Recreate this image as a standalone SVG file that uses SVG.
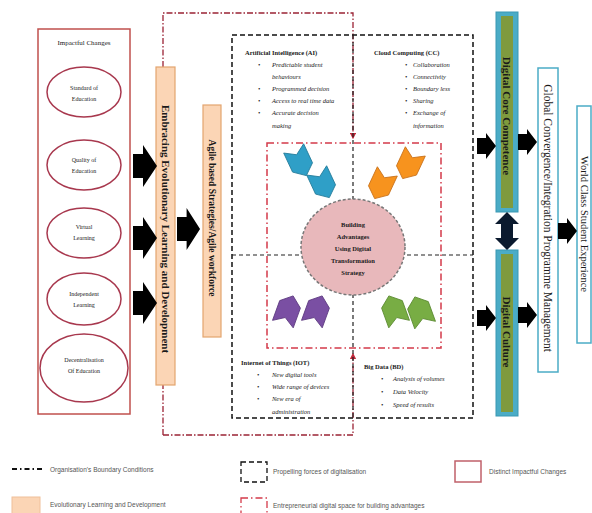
<svg xmlns="http://www.w3.org/2000/svg" width="592" height="513" viewBox="0 0 592 513">
<style>
text{font-family:"Liberation Serif","Times New Roman",serif;fill:#1a1a1a}
.el{font-size:6px;text-anchor:middle}
.bar{font-size:11px;font-weight:bold;text-anchor:middle;dominant-baseline:central}
.box{font-size:10.5px;text-anchor:middle;dominant-baseline:central}
.qt{font-size:6.5px;font-weight:bold}
.qi{font-size:6.5px;font-style:italic}
.lg{font-family:"Liberation Sans",Arial,sans-serif;font-size:6.5px;fill:#555}
.orange{fill:#fbd5b5;stroke:#e3a56f;stroke-width:1.2}
.teal{fill:#4bacc6;stroke:#3a98b3;stroke-width:1}
.olive{fill:#7f9a3e}
.wbox{fill:#fff;stroke:#4bacc6;stroke-width:1.5}
.blk{fill:#000}
.loop{fill:none;stroke:#9b2335;stroke-width:1.3;stroke-dasharray:6 2 1.5 2}
.inner{fill:none;stroke:#d43a4a;stroke-width:1.5;stroke-dasharray:7 3 1.5 3}
.dash{fill:none;stroke:#111;stroke-width:1.5;stroke-dasharray:5 3}
.divd{fill:none;stroke:#222;stroke-width:1.2;stroke-dasharray:4 3}
</style>
<defs>
<path id="bigA" d="M0,-12 H10 V-21 L24,0 L10,21 V12 H0 Z"/>
<path id="smA" d="M0,-8 H9 V-13 L19,0 L9,13 V8 H0 Z"/>
<path id="chev" d="M-11,-15 L0,-8 L11,-15 L11,6 L0,15 L-11,6 Z"/>
<marker id="redHead" viewBox="0 0 10 10" refX="8" refY="5" markerWidth="5" markerHeight="5" orient="auto">
<path d="M0,0 L10,5 L0,10 Z" fill="#c0283a"/>
</marker>
</defs>

<g id="impactful-changes">
<rect x="38" y="29" width="92" height="385" fill="#fff" stroke="#c0504d" stroke-width="1.5"/>
<text x="84" y="45" style="font-size:7px;text-anchor:middle">Impactful Changes</text>
</g>
<g id="node-standard">
<ellipse cx="84" cy="92" rx="37" ry="25" fill="#fff" stroke="#a8384e" stroke-width="1.5"/>
<text class="el" x="84" y="90">Standard of</text><text class="el" x="84" y="101">Education</text>
</g>
<g id="node-quality">
<ellipse cx="84" cy="165" rx="37" ry="25" fill="#fff" stroke="#a8384e" stroke-width="1.5"/>
<text class="el" x="84" y="162">Quality of</text><text class="el" x="84" y="173">Education</text>
</g>
<g id="node-virtual">
<ellipse cx="84" cy="233" rx="37" ry="25" fill="#fff" stroke="#a8384e" stroke-width="1.5"/>
<text class="el" x="84" y="229">Virtual</text><text class="el" x="84" y="240">Learning</text>
</g>
<g id="node-independent">
<ellipse cx="84" cy="299" rx="37" ry="26" fill="#fff" stroke="#a8384e" stroke-width="1.5"/>
<text class="el" x="84" y="296">Independent</text><text class="el" x="84" y="307">Learning</text>
</g>
<g id="node-decentralisation">
<ellipse cx="84" cy="368" rx="44" ry="34" fill="#fff" stroke="#a8384e" stroke-width="1.5"/>
<text class="el" x="84" y="362">Decentralisation</text><text class="el" x="84" y="373">Of Education</text>
</g>

<g id="boundary-loop">
<path class="loop" d="M163,435 V13 H353 V138" marker-end="url(#redHead)"/>
<path class="loop" d="M163,435 H353 V354" marker-end="url(#redHead)"/>
</g>

<g id="node-evolutionary">
<rect class="orange" x="156" y="67" width="19" height="318"/>
<text class="bar" transform="translate(165.5,229) rotate(90)">Embracing Evolutionary Learning and Development</text>
</g>
<g id="node-agile">
<rect class="orange" x="203" y="105" width="18" height="232"/>
<text class="bar" transform="translate(212,218) rotate(90)" style="font-size:9.5px">Agile based Strategies/Agile workforce</text>
</g>

<g id="propelling-forces">
<rect class="dash" x="232" y="35" width="241" height="383"/>
<line class="divd" x1="232" y1="255" x2="473" y2="255"/>
<line class="divd" x1="353" y1="35" x2="353" y2="418"/>
</g>
<g id="entrepreneurial-space">
<rect class="inner" x="267" y="143" width="174" height="205"/>
</g>

<g id="quadrant-ai">
<text class="qt" x="245" y="55">Artificial Intelligence (AI)</text>
<text class="qi" x="258" y="67">•</text><text class="qi" x="272" y="67">Predictable student</text>
<text class="qi" x="272" y="79">behaviours</text>
<text class="qi" x="258" y="91">•</text><text class="qi" x="272" y="91">Programmed decision</text>
<text class="qi" x="258" y="103">•</text><text class="qi" x="272" y="103">Access to real time data</text>
<text class="qi" x="258" y="115">•</text><text class="qi" x="272" y="115">Accurate decision</text>
<text class="qi" x="272" y="128">making</text>
</g>
<g id="quadrant-cc">
<text class="qt" x="374" y="55">Cloud Computing (CC)</text>
<text class="qi" x="405" y="67">•</text><text class="qi" x="413" y="67">Collaboration</text>
<text class="qi" x="405" y="79">•</text><text class="qi" x="413" y="79">Connectivity</text>
<text class="qi" x="405" y="91">•</text><text class="qi" x="413" y="91">Boundary less</text>
<text class="qi" x="405" y="103">•</text><text class="qi" x="413" y="103">Sharing</text>
<text class="qi" x="405" y="115">•</text><text class="qi" x="413" y="115">Exchange of</text>
<text class="qi" x="413" y="128">information</text>
</g>
<g id="quadrant-iot">
<text class="qt" x="241" y="365">Internet of Things (IOT)</text>
<text class="qi" x="257" y="377">•</text><text class="qi" x="272" y="377">New digital tools</text>
<text class="qi" x="257" y="389">•</text><text class="qi" x="272" y="389">Wide range of devices</text>
<text class="qi" x="257" y="401">•</text><text class="qi" x="272" y="401">New era of</text>
<text class="qi" x="272" y="414">administration</text>
</g>
<g id="quadrant-bd">
<text class="qt" x="364" y="369">Big Data (BD)</text>
<text class="qi" x="381" y="381">•</text><text class="qi" x="393" y="381">Analysis of volumes</text>
<text class="qi" x="381" y="394">•</text><text class="qi" x="393" y="394">Data Velocity</text>
<text class="qi" x="381" y="407">•</text><text class="qi" x="393" y="407">Speed of results</text>
</g>

<g id="force-arrows">
<use href="#chev" transform="translate(300,162) rotate(-25)" fill="#2f9fc7" stroke="#237a99" stroke-width="0.8"/>
<use href="#chev" transform="translate(323,184) rotate(-25)" fill="#2f9fc7" stroke="#237a99" stroke-width="0.8"/>
<use href="#chev" transform="translate(409,165) rotate(25)" fill="#f7931e" stroke="#c8701a" stroke-width="0.8"/>
<use href="#chev" transform="translate(381,185) rotate(25)" fill="#f7931e" stroke="#c8701a" stroke-width="0.8"/>
<use href="#chev" transform="translate(288,310) rotate(200)" fill="#7a4fa3" stroke="#5c3a80" stroke-width="0.8"/>
<use href="#chev" transform="translate(317,310) rotate(200)" fill="#7a4fa3" stroke="#5c3a80" stroke-width="0.8"/>
<use href="#chev" transform="translate(394,310) rotate(160)" fill="#78ad44" stroke="#5a8a30" stroke-width="0.8"/>
<use href="#chev" transform="translate(420,311) rotate(160)" fill="#78ad44" stroke="#5a8a30" stroke-width="0.8"/>
</g>

<g id="node-core">
<ellipse cx="353" cy="247" rx="52" ry="48" fill="#e8b8bb" stroke="#777" stroke-width="1.5" stroke-dasharray="3 2"/>
<text x="353" y="227" style="font-size:6.5px;font-weight:bold;text-anchor:middle">Building</text>
<text x="353" y="239" style="font-size:6.5px;font-weight:bold;text-anchor:middle">Advantages</text>
<text x="353" y="251" style="font-size:6.5px;font-weight:bold;text-anchor:middle">Using Digital</text>
<text x="353" y="263" style="font-size:6.5px;font-weight:bold;text-anchor:middle">Transformation</text>
<text x="353" y="275" style="font-size:6.5px;font-weight:bold;text-anchor:middle">Strategy</text>
</g>

<g id="node-digital-core-competence">
<rect class="teal" x="496" y="12" width="22" height="200"/>
<rect class="olive" x="501" y="16" width="12" height="192"/>
<text class="bar" transform="translate(507,116) rotate(90)">Digital Core Competence</text>
</g>
<g id="node-digital-culture">
<rect class="teal" x="496" y="250" width="22" height="166"/>
<rect class="olive" x="501" y="254" width="12" height="158"/>
<text class="bar" transform="translate(507,332) rotate(90)">Digital Culture</text>
</g>
<g id="node-global">
<rect class="wbox" x="538" y="68" width="20" height="304"/>
<text class="box" transform="translate(548,218) rotate(90)" style="font-size:11.5px">Global Convergence/Integration Programme Management</text>
</g>
<g id="node-world-class">
<rect class="wbox" x="577" y="106" width="14" height="237"/>
<text class="box" transform="translate(584,224) rotate(90)">World Class Student Experience</text>
</g>

<g id="connectors">
<use href="#bigA" class="blk" transform="translate(133,166)"/>
<use href="#bigA" class="blk" transform="translate(133,238)"/>
<use href="#bigA" class="blk" transform="translate(133,303)"/>
<use href="#bigA" class="blk" transform="translate(177,229) scale(0.96,1)"/>
<use href="#smA" class="blk" transform="translate(477,146)"/>
<use href="#smA" class="blk" transform="translate(477,318)"/>
<use href="#smA" class="blk" transform="translate(518,142)"/>
<use href="#smA" class="blk" transform="translate(518,315)"/>
<use href="#smA" class="blk" transform="translate(558,231)"/>
<path d="M507,212 L519,224 L513,224 L513,238 L519,238 L507,250 L495,238 L501,238 L501,224 L495,224 Z" fill="#0b1a2e"/>
</g>

<g id="legend">
<line x1="12" y1="469" x2="43" y2="469" stroke="#111" stroke-width="2" stroke-dasharray="5 3 1.5 3"/>
<text class="lg" x="50" y="472">Organisation's Boundary Conditions</text>
<rect x="12" y="497" width="28" height="20" fill="#fbd5b5" stroke="#f0c09a" stroke-width="1"/>
<text class="lg" x="50" y="507">Evolutionary Learning and Development</text>
<rect class="dash" x="241" y="462" width="26" height="20" style="stroke-width:1.3"/>
<text class="lg" x="273" y="474">Propelling forces of digitalisation</text>
<rect class="inner" x="241" y="498" width="26" height="20" style="stroke-width:1.3"/>
<text class="lg" x="273" y="508">Entrepreneurial digital space for building advantages</text>
<rect x="455" y="461" width="26" height="21" fill="#fff" stroke="#c0606a" stroke-width="1.5"/>
<text class="lg" x="489" y="474">Distinct Impactful Changes</text>
</g>
</svg>
